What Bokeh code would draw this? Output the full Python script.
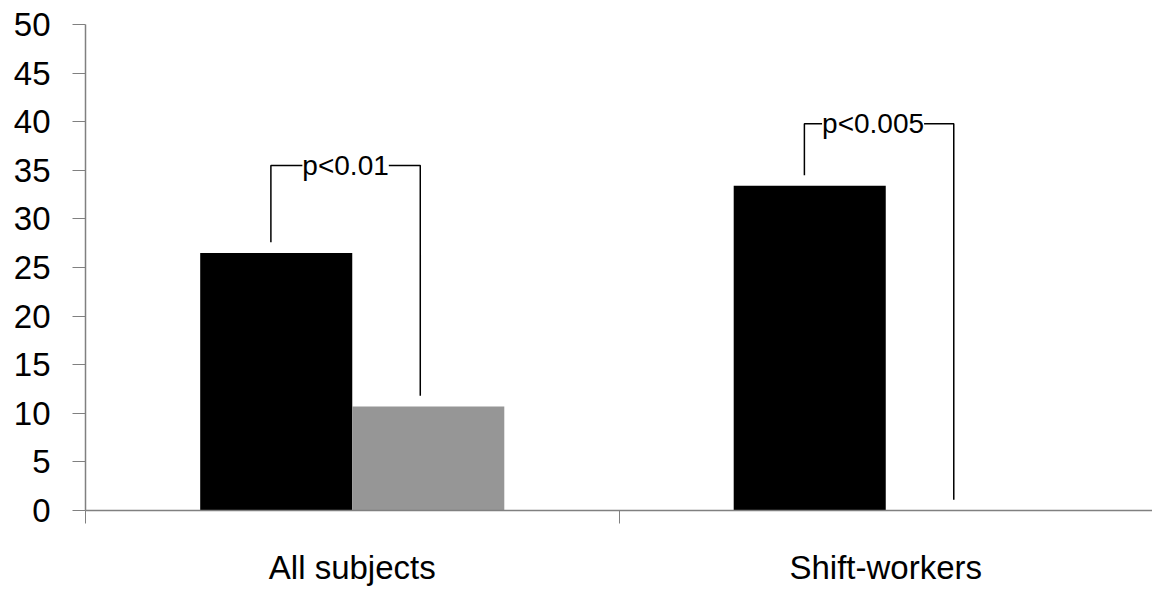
from bokeh.plotting import figure
from bokeh.models import Range1d, FixedTicker, Label
from bokeh.embed import file_html
from bokeh.resources import INLINE

# ---- data ----
categories = ["All subjects", "Shift-workers"]
black_values = [26.5, 33.4]
gray_values = [10.7, 0.0]
bracket_tops = [35.5, 39.8]
p_labels = ["p<0.01", "p<0.005"]
y_ticks = [0, 5, 10, 15, 20, 25, 30, 35, 40, 45, 50]

FONT = "Liberation Sans"
bar_w = 0.285

p = figure(width=1152, height=590, output_backend="svg", toolbar_location=None,
           x_range=Range1d(0, len(categories)), y_range=Range1d(0, 50),
           min_border_left=85, min_border_right=0, min_border_top=24, min_border_bottom=80)
p.outline_line_color = None
p.xgrid.visible = False
p.ygrid.visible = False
p.background_fill_color = "white"
p.border_fill_color = "white"

centers = [i + 0.5 for i in range(len(categories))]
x_black = [c - bar_w / 2 for c in centers]
x_gray = [c + bar_w / 2 for c in centers]

p.vbar(x=x_black, top=black_values, bottom=0, width=bar_w, fill_color="black", line_color=None)
p.vbar(x=x_gray, top=gray_values, bottom=0, width=bar_w, fill_color="#969696", line_color=None)

# significance brackets
xs, ys = [], []
for i in range(len(categories)):
    xl = x_black[i] - 0.01
    xr = x_gray[i] - 0.015
    xs.append([xl, xl, xr, xr])
    ys.append([black_values[i] + 1.1, bracket_tops[i], bracket_tops[i], gray_values[i] + 1.1])
p.multi_line(xs=xs, ys=ys, line_color="black", line_width=1.5)

label_shift = [0, -6]
for i in range(len(categories)):
    mid = (x_black[i] - 0.01 + x_gray[i] - 0.015) / 2
    p.add_layout(Label(x=mid, y=bracket_tops[i], text=p_labels[i], x_offset=label_shift[i],
                       text_align="center", text_baseline="middle",
                       text_font=FONT, text_font_size="28px", text_color="black",
                       background_fill_color="white"))

# x axis: labels at centres, ticks at category boundaries
xa = p.xaxis[0]
xa.ticker = FixedTicker(ticks=centers, minor_ticks=list(range(len(categories) + 1)))
xa.major_label_overrides = {c: categories[i] for i, c in enumerate(centers)}
xa.major_tick_out = 0
xa.major_tick_in = 0
xa.minor_tick_out = 13
xa.minor_tick_in = 0
xa.minor_tick_line_color = "#808080"
xa.axis_line_color = "#808080"
xa.axis_line_width = 1.5
xa.major_label_text_font = FONT
xa.major_label_text_font_size = "33px"
xa.major_label_text_color = "black"
xa.major_label_standoff = 25

ya = p.yaxis[0]
ya.ticker = FixedTicker(ticks=y_ticks)
ya.minor_tick_line_color = None
ya.major_tick_out = 13
ya.major_tick_in = 0
ya.major_tick_line_color = "#808080"
ya.axis_line_color = "#808080"
ya.axis_line_width = 1.5
ya.major_label_text_font = FONT
ya.major_label_text_font_size = "33px"
ya.major_label_text_color = "black"
ya.major_label_standoff = 22

open("out.html", "w").write(file_html(p, INLINE))
